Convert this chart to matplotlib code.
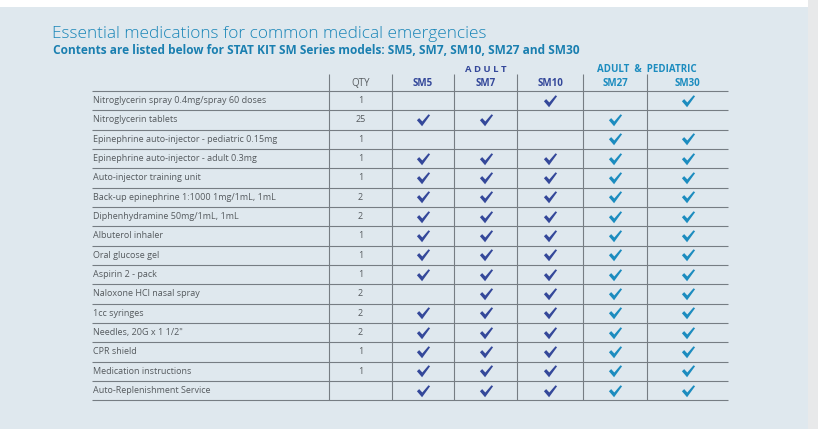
import matplotlib.pyplot as plt
import numpy as np
from matplotlib.path import Path

plt.rcParams['font.family'] = ['Open Sans', 'DejaVu Sans']

# table contents
items = [
    "Nitroglycerin spray 0.4mg/spray 60 doses",
    "Nitroglycerin tablets",
    "Epinephrine auto-injector - pediatric 0.15mg",
    "Epinephrine auto-injector - adult 0.3mg",
    "Auto-injector training unit",
    "Back-up epinephrine 1:1000 1mg/1mL, 1mL",
    "Diphenhydramine 50mg/1mL, 1mL",
    "Albuterol inhaler",
    "Oral glucose gel",
    "Aspirin 2 - pack",
    "Naloxone HCl nasal spray",
    "1cc syringes",
    "Needles, 20G x 1 1/2\"",
    "CPR shield",
    "Medication instructions",
    "Auto-Replenishment Service",
]
qty = ["1", "25", "1", "1", "1", "2", "2", "1", "1", "1", "2", "2", "2", "1", "1", ""]
models = ["SM5", "SM7", "SM10", "SM27", "SM30"]
adult_models = ["SM5", "SM7", "SM10"]
# 1 = included in kit  (columns: SM5, SM7, SM10, SM27, SM30)
included = [
    [0, 0, 1, 0, 1],
    [1, 1, 0, 1, 0],
    [0, 0, 0, 1, 1],
    [1, 1, 1, 1, 1],
    [1, 1, 1, 1, 1],
    [1, 1, 1, 1, 1],
    [1, 1, 1, 1, 1],
    [1, 1, 1, 1, 1],
    [1, 1, 1, 1, 1],
    [1, 1, 1, 1, 1],
    [0, 1, 1, 1, 1],
    [1, 1, 1, 1, 1],
    [1, 1, 1, 1, 1],
    [1, 1, 1, 1, 1],
    [1, 1, 1, 1, 1],
    [1, 1, 1, 1, 1],
]

title = "Essential medications for common medical emergencies"
subtitle = "Contents are listed below for STAT KIT SM Series models: SM5, SM7, SM10, SM27 and SM30"

bg = "#dfe8ee"
grey_text = "#555a5e"
navy = "#34489a"
teal = "#1c8cbf"
line_c = "#767d83"

# layout (pixel coords)
left, right = 92, 728
col_edges = [329, 392, 454, 517, 583, 647, 728]
head_y = 91
row_h = 19.33
n = len(items)
bottom = head_y + n * row_h

check = Path([(-0.55, 0.02), (-0.12, -0.48), (0.55, 0.44), (0.42, 0.52),
              (-0.1, -0.08), (-0.36, 0.2), (-0.55, 0.02)],
             [Path.MOVETO] + [Path.LINETO] * 5 + [Path.CLOSEPOLY])

fig = plt.figure(figsize=(8.18, 4.29), dpi=100, facecolor=bg)
ax = fig.add_axes([0, 0, 1, 1])
ax.set_xlim(0, 818)
ax.set_ylim(429, 0)
ax.axis("off")
ax.set_facecolor(bg)

# white strip on top, grey strip on right
ax.add_patch(plt.Rectangle((0, 0), 808, 7, color="white", lw=0))
ax.add_patch(plt.Rectangle((808, 0), 10, 429, color="#e8e9ea", lw=0))

ax.text(52, 34, title, fontsize=12.4, color="#1a86b8", fontweight="light", va="center")
ax.text(53, 50, subtitle, fontsize=8.6, color="#1a7fb0", fontweight="bold", va="center")

# header
centers = [(col_edges[i] + col_edges[i + 1]) / 2 for i in range(len(col_edges) - 1)]
ax.text(centers[0], 83, "QTY", fontsize=7, color=grey_text, ha="center", va="center")
for c, m in zip(centers[1:], models):
    col = navy if m in adult_models else teal
    ax.text(c, 83, m, fontsize=7, color=col, fontweight="bold", ha="center", va="center")
ax.text(centers[2], 70, "A D U L T", fontsize=6.8, color=navy, fontweight="bold",
        ha="center", va="center")
ax.text(col_edges[5], 70, "ADULT  &  PEDIATRIC", fontsize=7, color=teal,
        fontweight="bold", ha="center", va="center")

# grid
row_lines = head_y + np.arange(n + 1) * row_h
ax.hlines(row_lines, left, right, color=line_c, lw=0.8)
ax.vlines(col_edges[:-1], 74, bottom, color=line_c, lw=0.8)

# rows
ys = head_y + (np.arange(n) + 0.5) * row_h
for y, name, q in zip(ys, items, qty):
    ax.text(left + 1, y, name, fontsize=6.5, color=grey_text, va="center")
    ax.text(centers[0], y, q, fontsize=6.5, color=grey_text, ha="center", va="center")

marks = np.array(included)
for j, m in enumerate(models):
    rows = np.where(marks[:, j] == 1)[0]
    col = navy if m in adult_models else teal
    ax.scatter(np.full(len(rows), centers[j + 1]), ys[rows], marker=check,
               s=90, color=col, lw=0)

fig.savefig("out.png", dpi=100, facecolor=bg)
